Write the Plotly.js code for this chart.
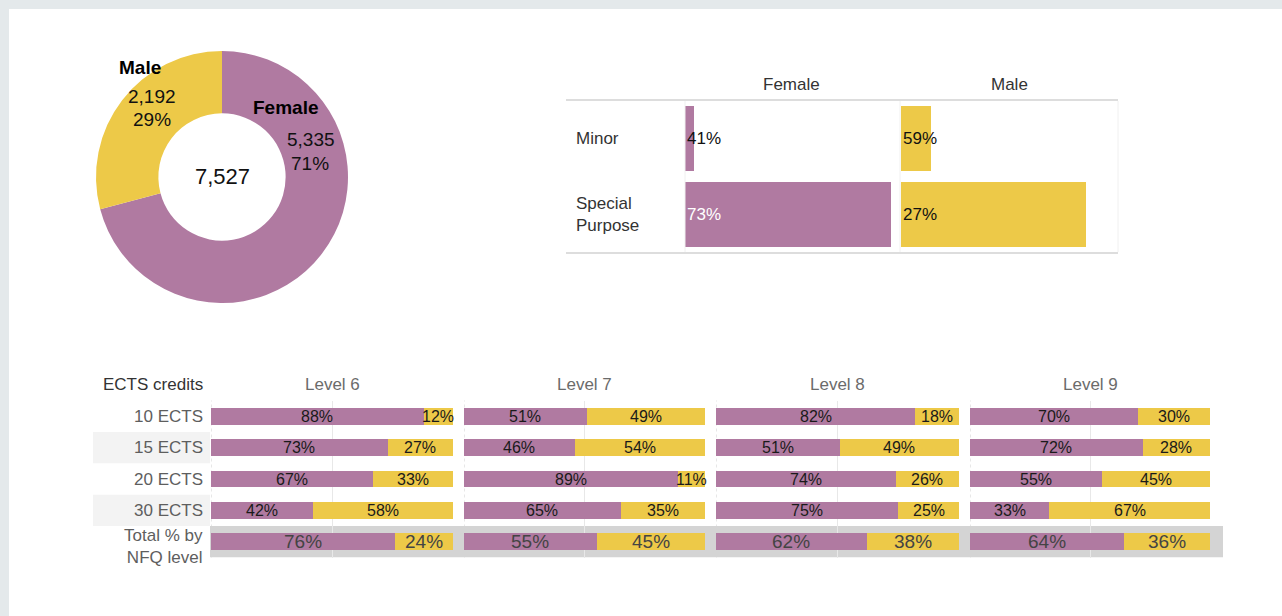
<!DOCTYPE html>
<html>
<head>
<meta charset="utf-8">
<script src="https://cdn.plot.ly/plotly-3.0.1.min.js"></script>
<style>
  html, body { margin: 0; padding: 0; background: #e4e9eb; width: 1282px; height: 616px; overflow: hidden; }
  #chart { position: absolute; left: 9px; top: 9px; width: 1273px; height: 607px; background: #ffffff; }
</style>
</head>
<body>
<div id="chart"></div>
<script>
// ---------------- DATA ----------------
const genders = ['Female', 'Male'];
const genderColors = ['#b07aa1', '#edc948'];

// Donut: totals by gender
const pieValues = [5335, 2192];

// Award type table (counts)
const awardTypes = ['Minor', 'Special Purpose'];
const awardFemale = [213, 5122];
const awardMale = [307, 1885];

// ECTS credits by NFQ level (% female / % male)
const nfqLevels = ['Level 6', 'Level 7', 'Level 8', 'Level 9'];
const ectsRows = ['10 ECTS', '15 ECTS', '20 ECTS', '30 ECTS', 'Total % by NFQ level'];
const ectsRowLabels = ['10 ECTS', '15 ECTS', '20 ECTS', '30 ECTS', 'Total % by<br>NFQ level'];
const femalePct = {
  'Level 6': [88, 73, 67, 42, 76],
  'Level 7': [51, 46, 89, 65, 55],
  'Level 8': [82, 51, 74, 75, 62],
  'Level 9': [70, 72, 55, 33, 64]
};
const malePct = {
  'Level 6': [12, 27, 33, 58, 24],
  'Level 7': [49, 54, 11, 35, 45],
  'Level 8': [18, 49, 26, 25, 38],
  'Level 9': [30, 28, 45, 67, 36]
};

// ---------------- LAYOUT HELPERS ----------------
const W = 1273, H = 607, OX = 9, OY = 9;
const px = x => (x - OX) / W;
const py = y => 1 - (y - OY) / H;
const FONT = 'Liberation Sans, Arial, Helvetica, sans-serif';
const fmt = n => n.toLocaleString('en-US');

const traces = [];
const annotations = [];
const shapes = [];
function note(o) {
  annotations.push(Object.assign({ showarrow: false, xanchor: 'center', yanchor: 'middle' }, o));
}

// ---------------- DONUT ----------------
const pieTotal = pieValues.reduce((a, b) => a + b, 0);
const cx = 222, cy = 177, R = 126;
traces.push({
  type: 'pie',
  labels: genders,
  values: pieValues,
  sort: false,
  direction: 'clockwise',
  rotation: 0,
  hole: 0.505,
  marker: { colors: genderColors, line: { width: 0 } },
  textinfo: 'none',
  hoverinfo: 'label+value+percent',
  showlegend: false,
  domain: { x: [px(cx - R), px(cx + R)], y: [py(cy + R), py(cy - R)] }
});
const piePct = pieValues.map(v => Math.round(100 * v / pieTotal) + '%');
const pieLabelPos = [
  { name: [285, 108], val: [311, 140], pct: [310, 163] },
  { name: [140, 67], val: [152, 97], pct: [152, 120] }
];
genders.forEach((g, i) => {
  const p = pieLabelPos[i];
  note({ xref: 'paper', yref: 'paper', x: px(p.name[0]), y: py(p.name[1]), text: '<b>' + g + '</b>', font: { family: FONT, size: 19, color: '#000' } });
  note({ xref: 'paper', yref: 'paper', x: px(p.val[0]), y: py(p.val[1]), text: fmt(pieValues[i]), font: { family: FONT, size: 19, color: '#111' } });
  note({ xref: 'paper', yref: 'paper', x: px(p.pct[0]), y: py(p.pct[1]), text: piePct[i], font: { family: FONT, size: 19, color: '#111' } });
});
note({ xref: 'paper', yref: 'paper', x: px(cx), y: py(cy), text: fmt(pieTotal), font: { family: FONT, size: 22, color: '#111' } });

// ---------------- AWARD TYPE TABLE ----------------
const awardData = [awardFemale, awardMale];
const awardTotals = awardTypes.map((_, i) => awardFemale[i] + awardMale[i]);
['x', 'x2'].forEach((xa, gi) => {
  traces.push({
    type: 'bar', orientation: 'h',
    x: awardData[gi], y: awardTypes,
    xaxis: xa, yaxis: 'y',
    marker: { color: genderColors[gi] },
    width: 0.855,
    showlegend: false,
    hovertemplate: genders[gi] + ' %{y}: %{x}<extra></extra>'
  });
  note({ xref: xa + ' domain', yref: 'paper', x: 0.5, y: py(85), text: genders[gi], font: { family: FONT, size: 17, color: '#333' } });
  awardTypes.forEach((t, i) => {
    const pct = Math.round(100 * awardData[gi][i] / awardTotals[i]) + '%';
    const white = (gi === 0 && i === 1);
    note({ xref: xa, yref: 'y', x: 0, y: t, xanchor: 'left', xshift: 0, text: pct, font: { family: FONT, size: 17, color: white ? '#ffffff' : '#111' } });
  });
});
awardTypes.forEach(t => {
  note({ xref: 'paper', yref: 'y', x: px(574), y: t, xanchor: 'left', align: 'left', text: t.replace(' ', '<br>'), font: { family: FONT, size: 17, color: '#333' } });
});
// table rules
shapes.push({ type: 'line', xref: 'paper', yref: 'paper', x0: px(566), x1: px(1118), y0: py(100), y1: py(100), line: { color: '#d2d2d2', width: 1.5 } });
shapes.push({ type: 'line', xref: 'paper', yref: 'paper', x0: px(566), x1: px(1118), y0: py(253), y1: py(253), line: { color: '#d2d2d2', width: 1.5 } });
[685, 900, 1118].forEach(xv => {
  shapes.push({ type: 'line', xref: 'paper', yref: 'paper', x0: px(xv), x1: px(xv), y0: py(101), y1: py(252), line: { color: '#f0f0f0', width: 1 } });
});

// ---------------- ECTS GRID ----------------
const paneX = [[211, 453], [464, 705], [716, 959], [970, 1210]];
const gridAxes = ['x3', 'x4', 'x5', 'x6'];
nfqLevels.forEach((lvl, li) => {
  const xa = gridAxes[li];
  const f = femalePct[lvl], m = malePct[lvl];
  traces.push({ type: 'bar', orientation: 'h', x: f, y: ectsRows, xaxis: xa, yaxis: 'y3', marker: { color: genderColors[0] }, width: 0.54, showlegend: false, hovertemplate: lvl + ' %{y}: Female %{x}%<extra></extra>' });
  traces.push({ type: 'bar', orientation: 'h', x: m, y: ectsRows, xaxis: xa, yaxis: 'y3', marker: { color: genderColors[1] }, width: 0.54, showlegend: false, hovertemplate: lvl + ' %{y}: Male %{x}%<extra></extra>' });
  ectsRows.forEach((r, ri) => {
    const isTotal = ri === ectsRows.length - 1;
    const fs = isTotal ? 19 : 16;
    const col = isTotal ? '#444444' : '#1a1a1a';
    note({ xref: xa, yref: 'y3', x: f[ri] / 2, y: r, text: f[ri] + '%', font: { family: FONT, size: fs, color: col } });
    note({ xref: xa, yref: 'y3', x: f[ri] + m[ri] / 2, y: r, text: m[ri] + '%', font: { family: FONT, size: fs, color: col } });
  });
  note({ xref: xa + ' domain', yref: 'paper', x: 0.5, y: py(384), text: lvl, font: { family: FONT, size: 17, color: '#6b6b6b' } });
  shapes.push({ type: 'line', xref: xa, yref: 'y3 domain', x0: 0, x1: 0, y0: 0, y1: 1, layer: 'below', line: { color: '#cfcfcf', width: 1, dash: 'dot' } });
});
// row label bands
[1, 3].forEach(ri => {
  shapes.push({ type: 'rect', xref: 'paper', yref: 'y3', x0: px(93), x1: px(210), y0: ri - 0.5, y1: ri + 0.5, layer: 'below', fillcolor: '#f3f3f3', line: { width: 0 } });
});
shapes.push({ type: 'rect', xref: 'paper', yref: 'y3', x0: px(210), x1: px(1223), y0: 3.5, y1: 4.5, layer: 'below', fillcolor: '#d4d4d4', line: { width: 0 } });
ectsRows.forEach((r, ri) => {
  note({ xref: 'paper', yref: 'y3', x: px(205), y: r, yshift: ri === 4 ? -5 : 0, xanchor: 'right', align: 'right', text: ectsRowLabels[ri], font: { family: FONT, size: 17, color: '#5e5e5e' } });
});
note({ xref: 'paper', yref: 'paper', x: px(205), y: py(384), xanchor: 'right', text: 'ECTS credits', font: { family: FONT, size: 17, color: '#333' } });

// ---------------- AXES ----------------
const hiddenX = (dom, rng) => ({ domain: dom, range: rng, showgrid: false, zeroline: false, showticklabels: false, showline: false, ticks: '', fixedrange: true });
const layout = {
  width: W, height: H,
  margin: { l: 0, r: 0, t: 0, b: 0, pad: 0 },
  paper_bgcolor: '#ffffff',
  plot_bgcolor: 'rgba(0,0,0,0)',
  barmode: 'stack',
  bargap: 0,
  showlegend: false,
  font: { family: FONT, size: 16, color: '#333' },
  xaxis: Object.assign(hiddenX([px(685), px(898)], [0, 5300]), { anchor: 'y' }),
  xaxis2: Object.assign(hiddenX([px(901), px(1118)], [0, 2210]), { anchor: 'y' }),
  yaxis: { domain: [py(253), py(100)], type: 'category', categoryorder: 'array', categoryarray: awardTypes, range: [1.5, -0.5], showticklabels: false, showgrid: false, zeroline: false, ticks: '', anchor: 'x', fixedrange: true },
  yaxis3: { domain: [py(557.5), py(400.5)], type: 'category', categoryorder: 'array', categoryarray: ectsRows, range: [4.5, -0.5], showticklabels: false, showgrid: false, zeroline: false, ticks: '', anchor: 'x3', fixedrange: true },
  annotations: annotations,
  shapes: shapes
};
paneX.forEach((p, i) => {
  layout['xaxis' + (i + 3)] = {
    domain: [px(p[0]), px(p[1])], range: [0, 100], anchor: 'y3',
    tickmode: 'array', tickvals: [50, 100], showticklabels: false, ticks: '',
    showgrid: true, gridcolor: '#e8e8e8', gridwidth: 1, zeroline: false, showline: false, fixedrange: true
  };
});

Plotly.newPlot('chart', traces, layout, { displayModeBar: false, staticPlot: true });
</script>
</body>
</html>
